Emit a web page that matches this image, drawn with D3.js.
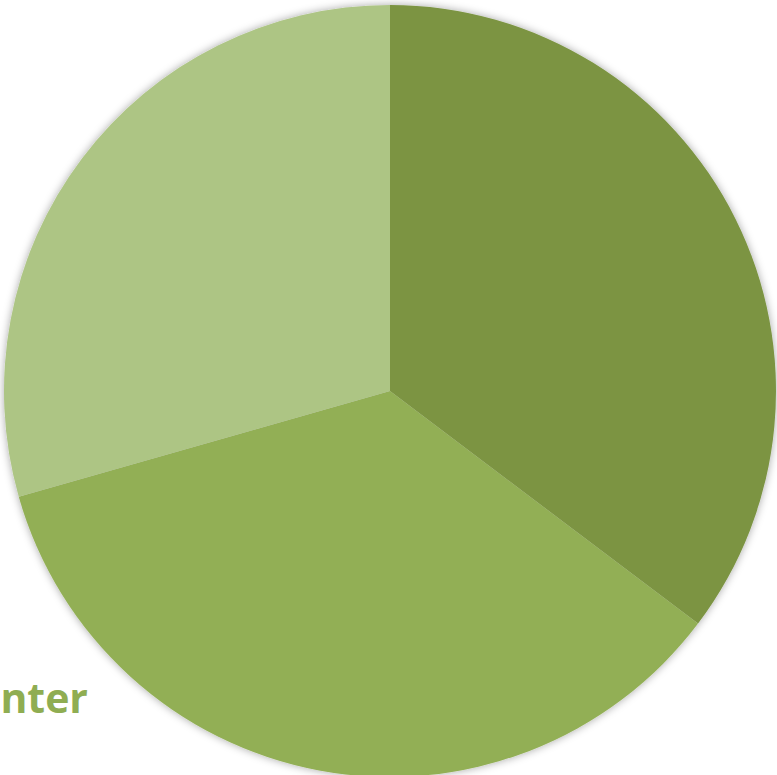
<!DOCTYPE html>
<html>
<head>
<meta charset="utf-8">
<script src="https://cdn.jsdelivr.net/npm/d3@7/dist/d3.min.js"></script>
<style>
	html, body { margin: 0; padding: 0; background: #fff; overflow: hidden; }
</style>
</head>
<body>
<div id="chart"></div>
<script>
// slice values (clockwise from 12 o'clock)
const categories = ['A', 'B', 'C'];
const values = [6, 6, 5];
const colors = ['#7c9443', '#92af55', '#adc584'];
const labels = ['Winter'];

const WIDTH = 777;
const HEIGHT = 775;
const CX = 390;
const CY = 391;
const RADIUS = 386;

const svg = d3.select('#chart').append('svg')
	.attr('width', WIDTH)
	.attr('height', HEIGHT);

// soft shadow round the pie
const defs = svg.append('defs');
const filter = defs.append('filter')
	.attr('id', 'shadow')
	.attr('x', '-10%').attr('y', '-10%')
	.attr('width', '120%').attr('height', '120%');
filter.append('feDropShadow')
	.attr('dx', 0).attr('dy', 0)
	.attr('stdDeviation', 4)
	.attr('flood-color', '#000')
	.attr('flood-opacity', 0.35);

const pie = d3.pie().sort(null).value(d => d);
const arc = d3.arc().innerRadius(0).outerRadius(RADIUS);

const g = svg.append('g')
	.attr('transform', 'translate(' + CX + ',' + CY + ')');

g.append('g')
	.attr('filter', 'url(#shadow)')
	.selectAll('path')
	.data(pie(values))
	.enter()
	.append('path')
		.attr('d', arc)
		.attr('fill', (d, i) => colors[i]);

// label that runs off the left edge
svg.append('text')
	.attr('x', 88)
	.attr('y', 713)
	.attr('text-anchor', 'end')
	.attr('font-family', 'Open Sans, sans-serif')
	.attr('font-weight', 'bold')
	.attr('font-size', 41)
	.attr('fill', '#8fad52')
	.text(labels[0]);
</script>
</body>
</html>
